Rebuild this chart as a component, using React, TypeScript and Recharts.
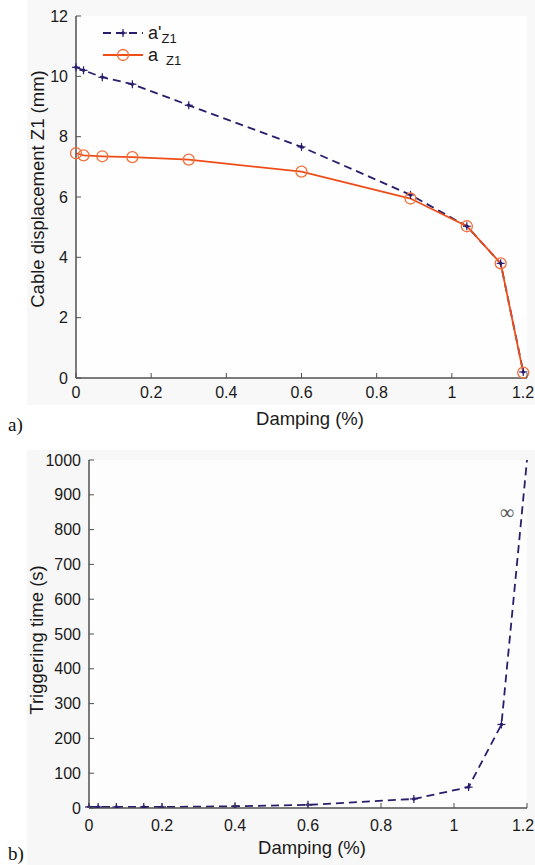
import React from "react";
import { LineChart, Line, XAxis, YAxis, Label, Legend, CartesianGrid, ReferenceDot } from "recharts";

// panel a) cable displacement vs damping
const damping = [0, 0.02, 0.07, 0.15, 0.3, 0.6, 0.89, 1.04, 1.13, 1.19];
const aPrimeZ1 = [10.3, 10.2, 9.97, 9.74, 9.04, 7.66, 6.07, 5.03, 3.8, 0.2];
const aZ1 = [7.45, 7.38, 7.35, 7.32, 7.24, 6.84, 5.95, 5.03, 3.8, 0.18];

// panel b) triggering time vs damping (last point runs off the top)
const dampingB = [0, 0.025, 0.075, 0.15, 0.2, 0.4, 0.6, 0.89, 1.04, 1.13, 1.2];
const triggerTime = [3, 3, 3, 3, 3, 5, 9, 26, 60, 240, 1000];
const infinityMark = [1.145, 850];

const xTicks = [0, 0.2, 0.4, 0.6, 0.8, 1, 1.2];
const yTicksA = [0, 2, 4, 6, 8, 10, 12];
const yTicksB = [0, 100, 200, 300, 400, 500, 600, 700, 800, 900, 1000];

const dataA = damping.map((d, i) => ({ damping: d, aPrime: aPrimeZ1[i], a: aZ1[i] }));
const dataB = dampingB.map((d, i) => ({ damping: d, time: triggerTime[i] }));

const FONT = "'Liberation Sans', Arial, sans-serif";
const SERIF = "'Liberation Serif', 'Times New Roman', serif";
const FRAME = "#505050";
const NAVY = "#2a1d6c";
const ORANGE = "#ee4d18";
const TEXT = "#1a1a1a";

const BottomTick = (p: any, dy: number) => (
  <g>
    <line x1={p.x} x2={p.x} y1={p.y} y2={p.y - 5} stroke={FRAME} />
    <text x={Math.min(p.x, 523)} y={p.y + dy} textAnchor="middle" dominantBaseline="central" fontSize={16} fill={TEXT} fontFamily={FONT}>
      {p.payload.value}
    </text>
  </g>
)

const LeftTick = (p: any) => (
  <g>
    <line x1={p.x} x2={p.x + 5} y1={p.y} y2={p.y} stroke={FRAME} />
    <text x={p.x - 8} y={p.y} textAnchor="end" dominantBaseline="central" fontSize={16} fill={TEXT} fontFamily={FONT}>
      {p.payload.value}
    </text>
  </g>
)

const TopTick = (p: any) => <line x1={p.x} x2={p.x} y1={p.y} y2={p.y + 5} stroke={FRAME} />
const RightTick = (p: any) => <line x1={p.x} x2={p.x - 5} y1={p.y} y2={p.y} stroke={FRAME} />

const StarDot = (p: any) => {
  if (p.cx == null || p.cy == null || p.hide) return <g key={p.index} />
  return (
    <g key={p.index}>
      <line x1={p.cx - 4} x2={p.cx + 4} y1={p.cy} y2={p.cy} stroke={NAVY} strokeWidth={1.2} />
      <line x1={p.cx} x2={p.cx} y1={p.cy - 4} y2={p.cy + 4} stroke={NAVY} strokeWidth={1.2} />
      <circle cx={p.cx} cy={p.cy} r={1.8} fill={NAVY} />
    </g>
  )
}

const CircleDot = (p: any) => {
  if (p.cx == null || p.cy == null) return <g key={p.index} />
  return <circle key={p.index} cx={p.cx} cy={p.cy} r={5.5} fill="none" stroke="#f0703c" strokeWidth={1.3} />
}

const axisLabel = (text: string, x: number, y: number, rotate = false) => () => (
  <text
    x={x}
    y={y}
    transform={rotate ? `rotate(-90, ${x}, ${y})` : undefined}
    textAnchor="middle"
    dominantBaseline="central"
    fontSize={18.5}
    fill={TEXT}
    fontFamily={FONT}
  >
    {text}
  </text>
)

const LegendBox = () => (
  <svg width={100} height={46}>
    <line x1={3} x2={43} y1={11} y2={11} stroke={NAVY} strokeWidth={1.8} strokeDasharray="8 5" />
    <StarDot cx={23} cy={11} index={0} />
    <text x={48} y={17} fontSize={18} fill={TEXT} fontFamily={FONT}>
      a'<tspan fontSize={13} dy={4}>Z1</tspan>
    </text>
    <line x1={3} x2={43} y1={33} y2={33} stroke={ORANGE} strokeWidth={1.8} />
    <CircleDot cx={23} cy={33} index={1} />
    <text x={48} y={39} fontSize={18} fill={TEXT} fontFamily={FONT}>
      a <tspan fontSize={13} dx={3} dy={4}>Z1</tspan>
    </text>
  </svg>
)

export default function App() {
  return (
    <div style={{ position: "absolute", left: 0, top: 0, width: 535, height: 865, background: "#fff", overflow: "hidden" }}>
      <div style={{ position: "absolute", left: 27, top: 0, width: 508, height: 405, background: "#f8f8f8" }} />
      <div style={{ position: "absolute", left: 27, top: 450, width: 508, height: 415, background: "#f7f7f7" }} />

      <div style={{ position: "absolute", left: 0, top: 0 }}>
        <LineChart width={535} height={430} data={dataA} margin={{ top: 16, right: 8, left: 0, bottom: 0 }}>
          <CartesianGrid horizontal={false} vertical={false} fill="#fefefe" />
          <XAxis
            dataKey="damping"
            type="number"
            domain={[0, 1.2]}
            ticks={xTicks}
            interval={0}
            height={52}
            tickSize={0}
            tickMargin={0}
            tickLine={false}
            axisLine={{ stroke: FRAME, strokeWidth: 1.5 }}
            tick={(p: any) => BottomTick(p, 14)}
          >
            <Label content={axisLabel("Damping (%)", 310, 418)} />
          </XAxis>
          <XAxis
            xAxisId="top"
            orientation="top"
            dataKey="damping"
            type="number"
            domain={[0, 1.2]}
            ticks={xTicks}
            interval={0}
            height={0}
            tickSize={0}
            tickMargin={0}
            tickLine={false}
            axisLine={{ stroke: FRAME, strokeWidth: 1.5 }}
            tick={TopTick}
          />
          <YAxis
            type="number"
            domain={[0, 12]}
            ticks={yTicksA}
            interval={0}
            width={76}
            tickSize={0}
            tickMargin={0}
            tickLine={false}
            axisLine={{ stroke: FRAME, strokeWidth: 1.5 }}
            tick={LeftTick}
          >
            <Label content={axisLabel("Cable displacement Z1 (mm)", 37, 189, true)} />
          </YAxis>
          <YAxis
            yAxisId="right"
            orientation="right"
            type="number"
            domain={[0, 12]}
            ticks={yTicksA}
            interval={0}
            width={0}
            tickSize={0}
            tickMargin={0}
            tickLine={false}
            axisLine={{ stroke: FRAME, strokeWidth: 1.5 }}
            tick={RightTick}
          />
          <Legend
            layout="vertical"
            align="center"
            verticalAlign="middle"
            content={() => <LegendBox />}
            wrapperStyle={{ position: "absolute", left: 100, top: 22, width: 100, height: 46 }}
          />
          <Line
            type="linear"
            dataKey="aPrime"
            stroke={NAVY}
            strokeWidth={1.8}
            strokeDasharray="8 5"
            dot={(p: any) => <StarDot {...p} />}
            isAnimationActive={false}
          />
          <Line
            type="linear"
            dataKey="a"
            stroke={ORANGE}
            strokeWidth={1.8}
            dot={(p: any) => <CircleDot {...p} />}
            isAnimationActive={false}
          />
        </LineChart>
      </div>

      <div style={{ position: "absolute", left: 0, top: 430 }}>
        <LineChart width={535} height={435} data={dataB} margin={{ top: 30, right: 8, left: 0, bottom: 0 }}>
          <CartesianGrid horizontal={false} vertical={false} fill="#fdfdfd" />
          <XAxis
            dataKey="damping"
            type="number"
            domain={[0, 1.2]}
            ticks={xTicks}
            interval={0}
            height={57}
            tickSize={0}
            tickMargin={0}
            tickLine={false}
            axisLine={{ stroke: FRAME, strokeWidth: 1.5 }}
            tick={(p: any) => BottomTick(p, 17)}
          >
            <Label content={axisLabel("Damping (%)", 312, 417)} />
          </XAxis>
          <XAxis
            xAxisId="top"
            orientation="top"
            dataKey="damping"
            type="number"
            domain={[0, 1.2]}
            ticks={xTicks}
            interval={0}
            height={0}
            tickSize={0}
            tickMargin={0}
            tickLine={false}
            axisLine={{ stroke: FRAME, strokeWidth: 1.5 }}
            tick={TopTick}
          />
          <YAxis
            type="number"
            domain={[0, 1000]}
            ticks={yTicksB}
            interval={0}
            allowDataOverflow
            width={89}
            tickSize={0}
            tickMargin={0}
            tickLine={false}
            axisLine={{ stroke: FRAME, strokeWidth: 1.5 }}
            tick={LeftTick}
          >
            <Label content={axisLabel("Triggering time (s)", 36, 210, true)} />
          </YAxis>
          <YAxis
            yAxisId="right"
            orientation="right"
            type="number"
            domain={[0, 1000]}
            ticks={yTicksB}
            interval={0}
            width={0}
            tickSize={0}
            tickMargin={0}
            tickLine={false}
            axisLine={{ stroke: FRAME, strokeWidth: 1.5 }}
            tick={RightTick}
          />
          <ReferenceDot
            x={infinityMark[0]}
            y={infinityMark[1]}
            r={0}
            label={{ value: "∞", position: "center", fontSize: 20, fill: "#555", fontFamily: SERIF }}
          />
          <Line
            type="linear"
            dataKey="time"
            stroke={NAVY}
            strokeWidth={1.8}
            strokeDasharray="8 5"
            dot={(p: any) => <StarDot {...p} hide={p.index === dampingB.length - 1} />}
            isAnimationActive={false}
          />
        </LineChart>
      </div>

      <div style={{ position: "absolute", left: 8, top: 414, fontFamily: SERIF, fontSize: 19, color: "#111" }}>a)</div>
      <div style={{ position: "absolute", left: 8, top: 843, fontFamily: SERIF, fontSize: 19, color: "#111" }}>b)</div>
    </div>
  );
}
